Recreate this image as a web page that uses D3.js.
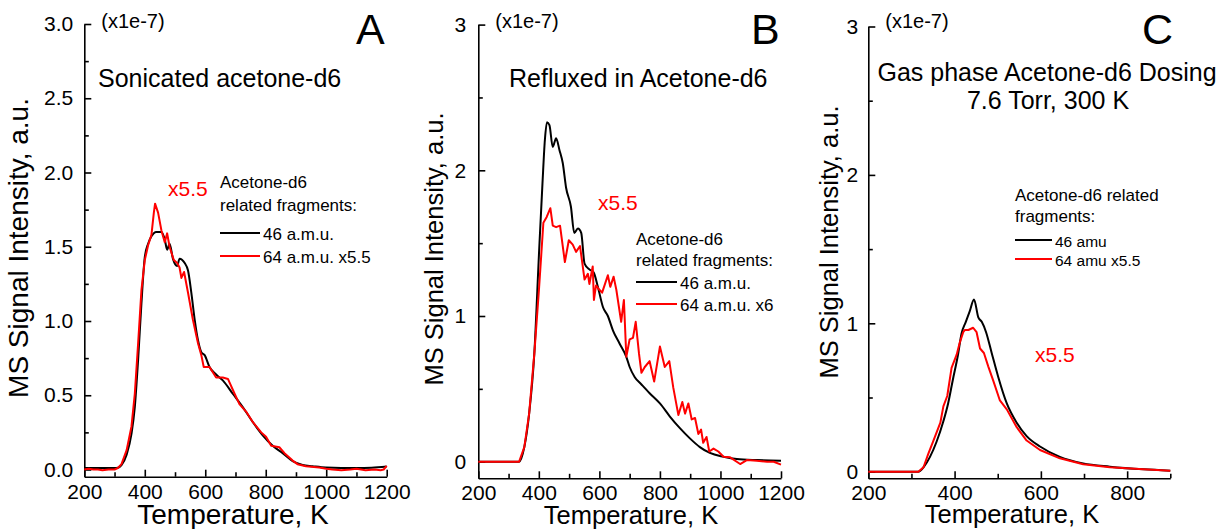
<!DOCTYPE html>
<html>
<head>
<meta charset="utf-8">
<script src="https://cdn.jsdelivr.net/npm/d3@7"></script>
<style>
  body { margin: 0; background: #fff; }
  svg text { font-family: "Liberation Sans", Arial, sans-serif; }
</style>
</head>
<body>
<svg id="svgHolder"></svg>
<script>
// panel A - sonicated
let tempA46 = [200,250,300,311,323,340,356,367,378,389,400,411,422,438,455,466,474,482,493,507,515,532,543,554,565,576,587,598,614,636,658,691,724,757,790,823,856,889,922,955,999,1050,1100,1150,1200];
let sigA46  = [0.01,0.01,0.01,0.012,0.03,0.10,0.24,0.42,0.74,1.12,1.43,1.52,1.57,1.60,1.60,1.55,1.48,1.52,1.42,1.37,1.42,1.39,1.34,1.19,1.01,0.87,0.79,0.77,0.69,0.64,0.60,0.51,0.42,0.32,0.23,0.16,0.11,0.056,0.03,0.022,0.013,0.01,0.01,0.012,0.02];
let tempA64 = [200,215,230,245,260,280,300,311,323,340,356,367,378,389,400,411,422,430,434,444,455,466,474,482,496,507,515,521,530,543,559,576,587,595,614,636,658,675,697,713,735,757,785,801,818,845,862,889,905,933,977,1000,1020,1050,1080,1100,1130,1160,1180,1190,1200];
let sigA64  = [0.0,0.005,0.0,0.0,-0.005,0.0,0.0,0.01,0.036,0.13,0.29,0.51,0.85,1.21,1.41,1.51,1.58,1.73,1.79,1.73,1.61,1.53,1.59,1.50,1.41,1.39,1.36,1.29,1.33,1.19,1.01,0.85,0.77,0.69,0.69,0.62,0.62,0.61,0.51,0.44,0.39,0.32,0.25,0.22,0.16,0.15,0.11,0.06,0.036,0.022,0.013,0.005,0.0,-0.005,0.0,0.005,-0.005,0.0,-0.005,0.0,0.025];

// panel B - refluxed
let tempB46 = [200,250,300,335,352,368,385,401,412,420,427,435,446,457,468,479,490,506,517,529,540,551,567,581,595,612,628,645,667,689,700,717,739,766,800,833,866,899,932,965,1010,1054,1120,1200];
let sigB46  = [0,0,0,0,0.10,0.33,0.74,1.45,1.91,2.21,2.33,2.31,2.16,2.22,2.14,2.05,1.88,1.75,1.57,1.60,1.57,1.36,1.32,1.30,1.20,1.06,1.00,0.90,0.81,0.72,0.65,0.58,0.53,0.47,0.40,0.31,0.23,0.16,0.10,0.06,0.034,0.018,0.011,0.007];
let tempB64 = [200,250,300,335,352,368,385,401,415,426,438,446,457,470,486,499,512,523,536,551,562,567,578,582,589,600,609,617,628,636,647,656,672,681,689,700,711,720,731,739,750,766,781,800,816,831,844,861,874,883,894,905,916,927,936,943,954,963,977,993,1010,1032,1065,1087,1120,1154,1176,1200];
let sigB64  = [0,0,0,0,0.10,0.33,0.74,1.20,1.64,1.68,1.74,1.62,1.61,1.62,1.37,1.52,1.49,1.44,1.48,1.25,1.29,1.22,1.34,1.11,1.21,1.18,1.16,1.21,1.28,1.20,1.27,1.18,0.96,1.11,0.72,0.84,0.85,0.96,0.74,0.61,0.65,0.69,0.55,0.79,0.65,0.69,0.51,0.32,0.41,0.33,0.40,0.29,0.30,0.19,0.22,0.13,0.17,0.07,0.09,0.07,0.034,0.03,-0.016,0.011,0.007,0,0,-0.02];

// panel C - gas phase dosing
let tempC46 = [200,250,300,316,328,343,358,374,385,396,408,416,426,435,445,455,463,473,486,501,521,544,567,598,644,698,760,838,900];
let sigC46  = [0,0,0,0,0.03,0.10,0.20,0.34,0.46,0.62,0.79,0.93,1.01,1.08,1.16,1.04,1.01,0.94,0.80,0.64,0.46,0.33,0.24,0.17,0.10,0.056,0.034,0.016,0.007];
let tempC64 = [200,250,300,316,328,339,351,367,374,383,393,405,412,420,424,432,443,451,459,468,478,490,505,521,544,567,598,644,698,760,838,900];
let sigC64  = [0,0,0,0,0.03,0.12,0.21,0.33,0.44,0.51,0.70,0.79,0.87,0.94,0.955,0.955,0.97,0.94,0.83,0.80,0.71,0.61,0.48,0.42,0.30,0.21,0.146,0.09,0.05,0.03,0.016,0.007];

let yTicksA = [0,0.5,1,1.5,2,2.5,3];
let yMinorA = [0.25,0.75,1.25,1.75,2.25,2.75];
let yTicksBC = [0,1,2,3];
let yMinorBC = [0.5,1.5,2.5];
let xTicks1200 = [200,400,600,800,1000,1200];
let xMinor1200 = [300,500,700,900,1100];
let xTicks900 = [200,400,600,800];
let xMinor900 = [300,500,700,900];

let width = 1225;
let height = 529;

let panels = [
  {
    letter: 'A', left: 84.3, right: 386.7, top: 24, zero: 469.5, base: 476.7,
    xMax: 1200, xMajor: xTicks1200, xMinor: xMinor1200,
    yMajor: yTicksA, yMinor: yMinorA, yFormat: '.1f', yPad: 11,
    t46: tempA46, s46: sigA46, t64: tempA64, s64: sigA64,
    axisFont: 28, yLabelX: 28, yLabelY: 248, xLabelX: 233, xLabelY: 524,
    letterX: 356, note: [['Sonicated acetone-d6', 98, 87, 'start']],
    factorX: 168, factorY: 196,
    legX: 220, legHead: ['Acetone-d6', 'related fragments:'], legHeadY: [188, 211],
    legLineW: 40, leg1Y: 233, leg2Y: 256, legTextFont: 17, legHeadFont: 17,
    leg1: '46 a.m.u.', leg2: '64 a.m.u. x5.5'
  },
  {
    letter: 'B', left: 478.3, right: 781, top: 24.6, zero: 461.7, base: 478.3,
    xMax: 1200, xMajor: xTicks1200, xMinor: xMinor1200,
    yMajor: yTicksBC, yMinor: yMinorBC, yFormat: 'd', yPad: 12,
    t46: tempB46, s46: sigB46, t64: tempB64, s64: sigB64,
    axisFont: 25.5, yLabelX: 443, yLabelY: 249, xLabelX: 631, xLabelY: 524,
    letterX: 751, note: [['Refluxed in Acetone-d6', 509, 87, 'start']],
    factorX: 598, factorY: 210,
    legX: 636, legHead: ['Acetone-d6', 'related fragments:'], legHeadY: [245, 266],
    legLineW: 41, leg1Y: 282, leg2Y: 304, legTextFont: 17, legHeadFont: 17,
    leg1: '46 a.m.u.', leg2: '64 a.m.u. x6'
  },
  {
    letter: 'C', left: 868.3, right: 1170.3, top: 26.5, zero: 471.7, base: 478.3,
    xMax: 900, xMajor: xTicks900, xMinor: xMinor900,
    yMajor: yTicksBC, yMinor: yMinorBC, yFormat: 'd', yPad: 10,
    t46: tempC46, s46: sigC46, t64: tempC64, s64: sigC64,
    axisFont: 25.5, yLabelX: 838, yLabelY: 242, xLabelX: 1012, xLabelY: 523,
    letterX: 1142, note: [['Gas phase Acetone-d6 Dosing', 1047, 81, 'middle'], ['7.6 Torr, 300 K', 1048, 109, 'middle']],
    factorX: 1035, factorY: 362,
    legX: 1015, legHead: ['Acetone-d6 related', 'fragments:'], legHeadY: [201, 222],
    legLineW: 37, leg1Y: 240, leg2Y: 259, legTextFont: 15.5, legHeadFont: 17,
    leg1: '46 amu', leg2: '64 amu x5.5'
  }
];

let svg = d3.select('#svgHolder')
    .attr('width', width)
    .attr('height', height);

function drawPanel(p) {
    let g = svg.append('g');

    // value at the bottom axis line (axis sits a little below zero)
    let perUnit = (p.zero - p.top) / 3;
    let yMin = -(p.base - p.zero) / perUnit;

    let xScale = d3.scaleLinear().domain([200, p.xMax]).range([p.left, p.right]);
    let yScale = d3.scaleLinear().domain([yMin, 3]).range([p.base, p.top]);

    // ticks point inward
    let yAxis = d3.axisLeft(yScale)
        .tickValues(p.yMajor)
        .tickSizeInner(-7)
        .tickSizeOuter(0)
        .tickPadding(p.yPad)
        .tickFormat(d3.format(p.yFormat));
    let yMinor = d3.axisLeft(yScale)
        .tickValues(p.yMinor)
        .tickSizeInner(-4.5)
        .tickSizeOuter(0)
        .tickFormat('');

    let xAxis = d3.axisBottom(xScale)
        .tickValues(p.xMajor)
        .tickSizeInner(-7)
        .tickSizeOuter(0)
        .tickPadding(7)
        .tickFormat(d3.format('d'));
    let xMinor = d3.axisBottom(xScale)
        .tickValues(p.xMinor)
        .tickSizeInner(-4.5)
        .tickSizeOuter(0)
        .tickFormat('');

    g.append('g').attr('transform', 'translate(' + p.left + ',0)').call(yMinor)
        .select('.domain').remove();
    g.append('g').attr('transform', 'translate(0,' + p.base + ')').call(xMinor)
        .select('.domain').remove();

    let ya = g.append('g').attr('transform', 'translate(' + p.left + ',0)').call(yAxis);
    let xa = g.append('g').attr('transform', 'translate(0,' + p.base + ')').call(xAxis);

    g.selectAll('.domain, .tick line')
        .attr('stroke', '#000')
        .attr('stroke-width', 1.6);
    g.selectAll('.tick text')
        .attr('font-size', 21)
        .attr('fill', '#000')
        .attr('font-family', '"Liberation Sans", Arial, sans-serif');

    // curves
    let line = d3.line()
        .x((d) => xScale(d[0]))
        .y((d) => yScale(d[1]));

    let black = d3.zip(p.t46, p.s46);
    let red = d3.zip(p.t64, p.s64);

    g.append('path')
        .datum(black)
        .attr('fill', 'none')
        .attr('stroke', '#000')
        .attr('stroke-width', 2)
        .attr('stroke-linejoin', 'round')
        .attr('d', line.curve(d3.curveMonotoneX));

    g.append('path')
        .datum(red)
        .attr('fill', 'none')
        .attr('stroke', '#ff0000')
        .attr('stroke-width', 2)
        .attr('stroke-linejoin', 'round')
        .attr('d', line.curve(d3.curveLinear));

    // axis titles
    g.append('text')
        .attr('transform', 'translate(' + p.yLabelX + ',' + p.yLabelY + ') rotate(-90)')
        .attr('text-anchor', 'middle')
        .attr('font-size', p.axisFont)
        .text('MS Signal Intensity, a.u.');

    g.append('text')
        .attr('x', p.xLabelX)
        .attr('y', p.xLabelY)
        .attr('text-anchor', 'middle')
        .attr('font-size', p.axisFont)
        .text('Temperature, K');

    // multiplier note above axis
    g.append('text')
        .attr('x', p.left + 17)
        .attr('y', 28)
        .attr('font-size', 20)
        .text('(x1e-7)');

    g.append('text')
        .attr('x', p.letterX)
        .attr('y', 44)
        .attr('font-size', 43)
        .text(p.letter);

    p.note.forEach((n) => {
        g.append('text')
            .attr('x', n[1])
            .attr('y', n[2])
            .attr('text-anchor', n[3])
            .attr('font-size', 25)
            .text(n[0]);
    });

    g.append('text')
        .attr('x', p.factorX)
        .attr('y', p.factorY)
        .attr('font-size', 21)
        .attr('fill', '#ff0000')
        .text('x5.5');

    // legend
    p.legHead.forEach((h, i) => {
        g.append('text')
            .attr('x', p.legX)
            .attr('y', p.legHeadY[i])
            .attr('font-size', p.legHeadFont)
            .text(h);
    });

    [[p.leg1Y, '#000', p.leg1], [p.leg2Y, '#ff0000', p.leg2]].forEach((e) => {
        g.append('line')
            .attr('x1', p.legX)
            .attr('x2', p.legX + p.legLineW)
            .attr('y1', e[0])
            .attr('y2', e[0])
            .attr('stroke', e[1])
            .attr('stroke-width', 2.2);
        g.append('text')
            .attr('x', p.legX + p.legLineW + 3)
            .attr('y', e[0] + 6.5)
            .attr('font-size', p.legTextFont)
            .text(e[2]);
    });
}

panels.forEach(drawPanel);
</script>
</body>
</html>
